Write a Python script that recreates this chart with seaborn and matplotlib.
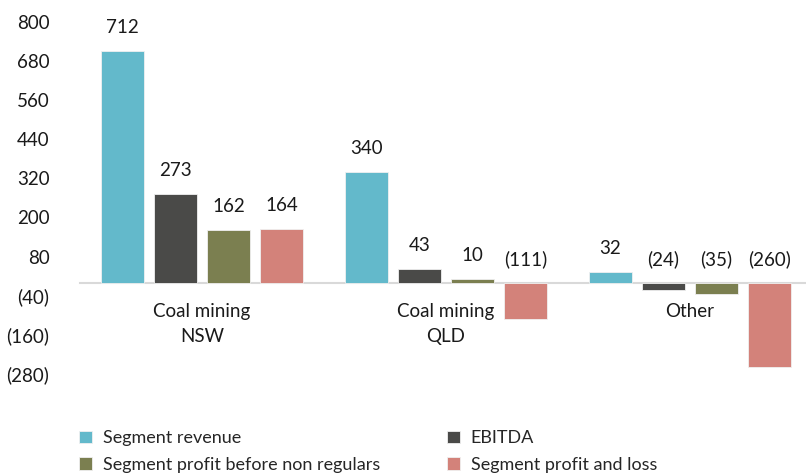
import matplotlib
matplotlib.use("Agg")
import matplotlib.pyplot as plt
import pandas as pd
import seaborn as sns

# données
segments = ["Coal mining\nNSW", "Coal mining\nQLD", "Other"]
metrics = ["Segment revenue", "EBITDA", "Segment profit before non regulars", "Segment profit and loss"]
revenue = [712, 340, 32]
ebitda = [273, 43, -24]
profit_before = [162, 10, -35]
profit_loss = [164, -111, -260]
y_ticks = [800, 680, 560, 440, 320, 200, 80, -40, -160, -280]

colors = ["#63B9CB", "#4A4A48", "#7B7F50", "#D3827A"]

rows = []
for metric, vals in zip(metrics, [revenue, ebitda, profit_before, profit_loss]):
    for seg, v in zip(segments, vals):
        rows.append({"segment": seg, "metric": metric, "value": v})
df = pd.DataFrame(rows)


def fmt(v):
    return f"({abs(v)})" if v < 0 else f"{v}"


sns.set_theme(style="white")
plt.rcParams["font.family"] = ["Lato", "DejaVu Sans"]

fig = plt.figure(figsize=(8.06, 4.75), dpi=100)
ax = fig.add_axes([80 / 806, 1 - 413 / 475, 732 / 806, 391 / 475])

sns.barplot(
    data=df, x="segment", y="value", hue="metric",
    order=segments, hue_order=metrics, palette=colors, saturation=1,
    width=0.87, gap=0.2, edgecolor="#f0f0f0", linewidth=0.6,
    ax=ax,
)

# étiquettes de valeurs
for cont, metric in zip(ax.containers, metrics):
    for bar, v in zip(cont, df[df["metric"] == metric]["value"]):
        x = bar.get_x() + bar.get_width() / 2
        ax.annotate(fmt(v), (x, max(v, 0)), xytext=(0, 17), textcoords="offset points",
                    ha="center", va="center", fontsize=13.5, color="#1a1a1a")

# catégories sous la ligne zéro
for i, seg in enumerate(segments):
    ax.annotate(seg, (i, 0), xytext=(0, -14.5), textcoords="offset points",
                ha="center", va="top", fontsize=13.5, color="#1a1a1a", linespacing=1.6)

ax.set_ylim(-400, 800)
ax.set_xlim(-0.5, 2.5)
ax.set_yticks(y_ticks)
ax.set_yticklabels([fmt(v) for v in y_ticks], fontsize=13.5, color="#1a1a1a")
ax.tick_params(axis="y", length=0, pad=22)
ax.tick_params(axis="x", length=0, labelbottom=False)
ax.set_xlabel("")
ax.set_ylabel("")

for s in ["top", "right", "left"]:
    ax.spines[s].set_visible(False)
ax.spines["bottom"].set_position(("data", 0))
ax.spines["bottom"].set_color("#d9d9d9")
ax.spines["bottom"].set_linewidth(1.5)
ax.spines["bottom"].set_zorder(0)

handles, labels = ax.get_legend_handles_labels()
ax.get_legend().remove()

leg_kw = dict(frameon=False, fontsize=13, handlelength=0.7, handleheight=0.7,
              handletextpad=0.6, labelspacing=0.6, loc="upper left", borderaxespad=0)
fig.legend([handles[0], handles[2]], [labels[0], labels[2]],
           bbox_to_anchor=(72 / 806, 1 - 423 / 475), **leg_kw)
fig.legend([handles[1], handles[3]], [labels[1], labels[3]],
           bbox_to_anchor=(440 / 806, 1 - 423 / 475), **leg_kw)

fig.savefig("out.png", dpi=100)
